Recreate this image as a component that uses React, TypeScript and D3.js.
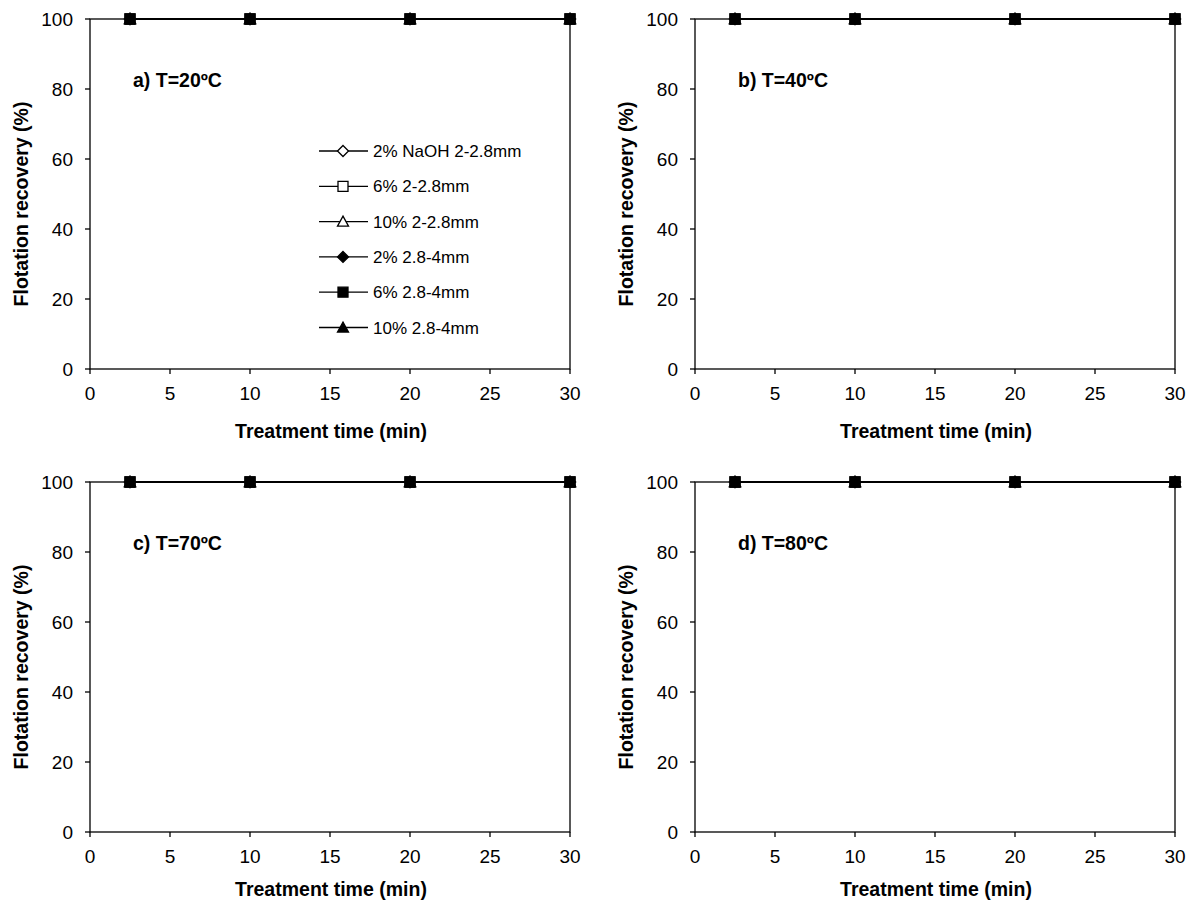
import React from "react";
import * as d3 from "d3";

const times = [2.5, 10, 20, 30];
const seriesLabels = [
  "2% NaOH 2-2.8mm",
  "6% 2-2.8mm",
  "10% 2-2.8mm",
  "2% 2.8-4mm",
  "6% 2.8-4mm",
  "10% 2.8-4mm",
];
const seriesShapes = ["diamond", "square", "triangle", "diamond", "square", "triangle"];
const seriesFilled = [false, false, false, true, true, true];

// flotation recovery (%) per series, one list per temperature
const recovery20 = [
  [100, 100, 100, 100],
  [100, 100, 100, 100],
  [100, 100, 100, 100],
  [100, 100, 100, 100],
  [100, 100, 100, 100],
  [100, 100, 100, 100],
];
const recovery40 = [
  [100, 100, 100, 100],
  [100, 100, 100, 100],
  [100, 100, 100, 100],
  [100, 100, 100, 100],
  [100, 100, 100, 100],
  [100, 100, 100, 100],
];
const recovery70 = [
  [100, 100, 100, 100],
  [100, 100, 100, 100],
  [100, 100, 100, 100],
  [100, 100, 100, 100],
  [100, 100, 100, 100],
  [100, 100, 100, 100],
];
const recovery80 = [
  [100, 100, 100, 100],
  [100, 100, 100, 100],
  [100, 100, 100, 100],
  [100, 100, 100, 100],
  [100, 100, 100, 100],
  [100, 100, 100, 100],
];

const panelTitles = ["a) T=20ºC", "b) T=40ºC", "c) T=70ºC", "d) T=80ºC"];
const panelData = [recovery20, recovery40, recovery70, recovery80];
const xTicks = [0, 5, 10, 15, 20, 25, 30];
const yTicks = [0, 20, 40, 60, 80, 100];

const FONT = "'Liberation Sans', Arial, sans-serif";
const W = 480;
const H = 350;

function markerPath(shape: string, cx: number, cy: number) {
  if (shape === "diamond") {
    const s = 5.5;
    return `M${cx},${cy - s}L${cx + s},${cy}L${cx},${cy + s}L${cx - s},${cy}Z`;
  }
  if (shape === "square") {
    const h = 5;
    return `M${cx - h},${cy - h}H${cx + h}V${cy + h}H${cx - h}Z`;
  }
  return `M${cx},${cy - 5.5}L${cx + 5.5},${cy + 4.5}L${cx - 5.5},${cy + 4.5}Z`;
}

const Marker = ({ shape, filled, cx, cy }) => (
  <path
    d={markerPath(shape, cx, cy)}
    fill={filled ? "#000" : "#fff"}
    stroke="#000"
    strokeWidth={1.3}
  />
);

const Panel = ({ left, top, title, data, showLegend, titleOffset }) => {
  const x = d3.scaleLinear().domain([0, 30]).range([0, W]);
  const y = d3.scaleLinear().domain([0, 100]).range([H, 0]);
  const line = d3
    .line<number>()
    .x((d, i) => x(times[i]))
    .y((d) => y(d));

  return (
    <g transform={`translate(${left},${top})`}>
      <rect x={0} y={0} width={W} height={H} fill="none" stroke="#000" strokeWidth={1.3} />
      {yTicks.map((t) => (
        <g key={t}>
          <line x1={-5} x2={0} y1={y(t)} y2={y(t)} stroke="#000" strokeWidth={1.3} />
          <text x={-17} y={y(t) + 7} textAnchor="end" fontSize={19} fontFamily={FONT}>
            {t}
          </text>
        </g>
      ))}
      {xTicks.map((t) => (
        <g key={t}>
          <line x1={x(t)} x2={x(t)} y1={H} y2={H + 5} stroke="#000" strokeWidth={1.3} />
          <text x={x(t)} y={H + 31} textAnchor="middle" fontSize={19} fontFamily={FONT}>
            {t}
          </text>
        </g>
      ))}
      <text
        x={W / 2 + 1}
        y={H + titleOffset}
        textAnchor="middle"
        fontSize={19.5}
        fontWeight="bold"
        fontFamily={FONT}
      >
        Treatment time (min)
      </text>
      <text
        transform={`translate(-62,${H / 2 + 10}) rotate(-90)`}
        textAnchor="middle"
        fontSize={19.5}
        fontWeight="bold"
        fontFamily={FONT}
      >
        Flotation recovery (%)
      </text>
      <text x={43} y={68} fontSize={19.5} fontWeight="bold" fontFamily={FONT}>
        {title}
      </text>

      {data.map((vals, si) => (
        <path key={si} d={line(vals)} fill="none" stroke="#000" strokeWidth={1.5} />
      ))}
      {data.map((vals, si) =>
        vals.map((v, i) => (
          <Marker
            key={si + "-" + i}
            shape={seriesShapes[si]}
            filled={seriesFilled[si]}
            cx={x(times[i])}
            cy={y(v)}
          />
        ))
      )}

      {showLegend &&
        seriesLabels.map((lab, i) => {
          const ly = 132 + i * 35.3;
          return (
            <g key={lab}>
              <line x1={229} x2={278} y1={ly} y2={ly} stroke="#000" strokeWidth={1.3} />
              <Marker shape={seriesShapes[i]} filled={seriesFilled[i]} cx={253} cy={ly} />
              <text x={283} y={ly + 6} fontSize={17} fontFamily={FONT}>
                {lab}
              </text>
            </g>
          );
        })}
    </g>
  );
};

export default function App() {
  const lefts = [90, 695, 90, 695];
  const tops = [19, 19, 482, 482];
  const titleOffsets = [69, 69, 64, 64];
  return (
    <div style={{ position: "absolute", left: 0, top: 0, width: 1186, height: 902, overflow: "hidden" }}>
      <svg width={1186} height={902} style={{ display: "block", background: "#fff" }}>
        <rect width={1186} height={902} fill="#fff" />
        {panelTitles.map((t, i) => (
          <Panel
            key={t}
            left={lefts[i]}
            top={tops[i]}
            title={t}
            data={panelData[i]}
            showLegend={i === 0}
            titleOffset={titleOffsets[i]}
          />
        ))}
      </svg>
    </div>
  );
}
